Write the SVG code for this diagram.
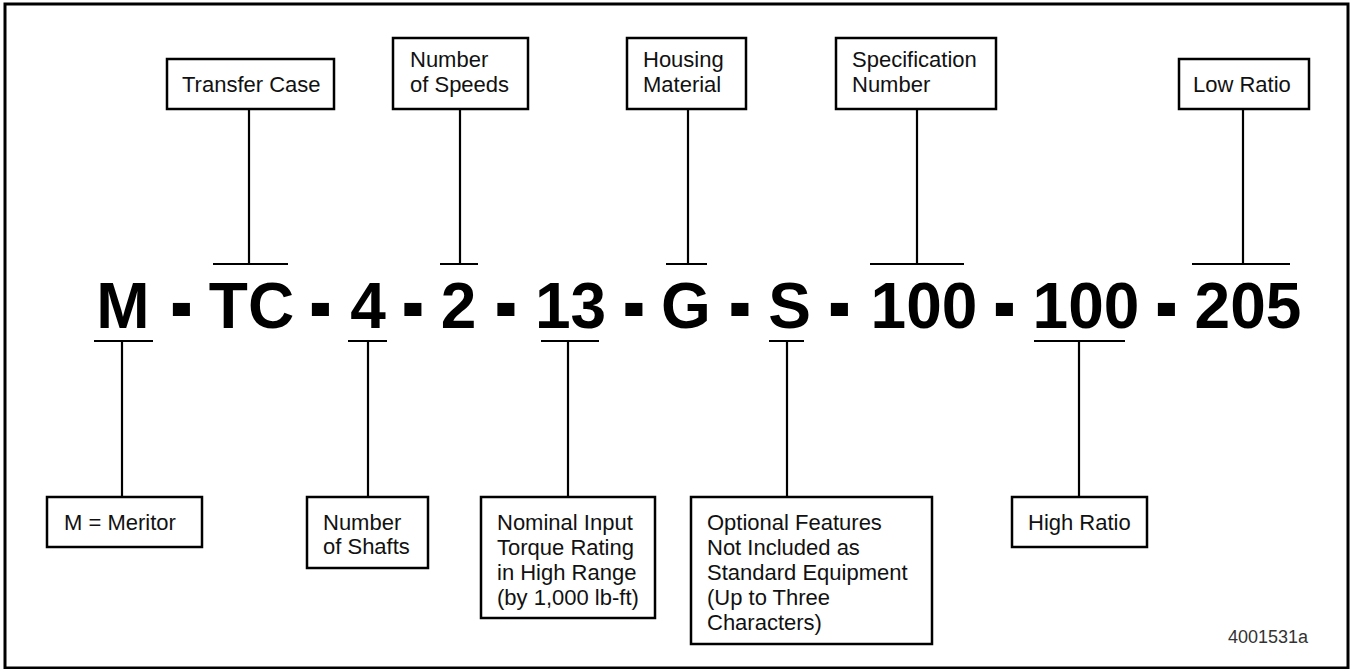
<svg xmlns="http://www.w3.org/2000/svg" width="1350" height="669" viewBox="0 0 1350 669">
<style>
.frame{fill:#fff;stroke:#000;stroke-width:3}
.box{fill:#fff;stroke:#000;stroke-width:2.5}
.lbl{font-family:"Liberation Sans",Arial,sans-serif;font-size:22px;fill:#111}
.code{font-family:"Liberation Sans",Arial,sans-serif;font-size:64px;font-weight:bold;fill:#000;text-anchor:middle}
.conn line{stroke:#000;stroke-width:2.2}
.ref{font-family:"Liberation Sans",Arial,sans-serif;font-size:18px;fill:#333}
</style>
<rect class="frame" x="5" y="4" width="1343" height="664"/>
<g id="connectors" class="conn">
<line x1="249" y1="109" x2="249" y2="264"/><line x1="213" y1="264" x2="288" y2="264"/>
<line x1="460" y1="109" x2="460" y2="264"/><line x1="440" y1="264" x2="478" y2="264"/>
<line x1="688" y1="109" x2="688" y2="264"/><line x1="666" y1="264" x2="707" y2="264"/>
<line x1="917" y1="109" x2="917" y2="264"/><line x1="870" y1="264" x2="964" y2="264"/>
<line x1="1243" y1="109" x2="1243" y2="264"/><line x1="1192" y1="264" x2="1290" y2="264"/>
<line x1="94" y1="341" x2="153" y2="341"/><line x1="122" y1="341" x2="122" y2="497"/>
<line x1="348" y1="341" x2="387" y2="341"/><line x1="368" y1="341" x2="368" y2="497"/>
<line x1="541" y1="341" x2="599" y2="341"/><line x1="568" y1="341" x2="568" y2="497"/>
<line x1="769" y1="341" x2="804" y2="341"/><line x1="787" y1="341" x2="787" y2="497"/>
<line x1="1034" y1="341" x2="1125" y2="341"/><line x1="1079" y1="341" x2="1079" y2="497"/>
</g>
<g id="code">
<text class="code" x="123" y="328">M</text>
<text class="code" transform="translate(181.5,311) scale(1.05,1.7)" x="0" y="16">-</text>
<text class="code" x="251.5" y="328">TC</text>
<text class="code" transform="translate(320.5,311) scale(1.05,1.7)" x="0" y="16">-</text>
<text class="code" x="368" y="328">4</text>
<text class="code" transform="translate(413,311) scale(1.05,1.7)" x="0" y="16">-</text>
<text class="code" x="458.5" y="328">2</text>
<text class="code" transform="translate(506,311) scale(1.05,1.7)" x="0" y="16">-</text>
<text class="code" x="570.5" y="328">13</text>
<text class="code" transform="translate(634,311) scale(1.05,1.7)" x="0" y="16">-</text>
<text class="code" x="686" y="328">G</text>
<text class="code" transform="translate(740,311) scale(1.05,1.7)" x="0" y="16">-</text>
<text class="code" x="789.5" y="328">S</text>
<text class="code" transform="translate(839.5,311) scale(1.05,1.7)" x="0" y="16">-</text>
<text class="code" x="924" y="328">100</text>
<text class="code" transform="translate(1004.5,311) scale(1.05,1.7)" x="0" y="16">-</text>
<text class="code" x="1086" y="328">100</text>
<text class="code" transform="translate(1166.5,311) scale(1.05,1.7)" x="0" y="16">-</text>
<text class="code" x="1248" y="328">205</text>
</g>
<g id="transfer-case"><rect class="box" x="167" y="59" width="167" height="50"/><text class="lbl" x="182" y="92">Transfer Case</text></g>
<g id="number-of-speeds"><rect class="box" x="393" y="38" width="135" height="71"/><text class="lbl" x="410" y="67">Number</text><text class="lbl" x="410" y="92">of Speeds</text></g>
<g id="housing-material"><rect class="box" x="627" y="38" width="119" height="71"/><text class="lbl" x="643" y="67">Housing</text><text class="lbl" x="643" y="92">Material</text></g>
<g id="specification-number"><rect class="box" x="836" y="38" width="160" height="71"/><text class="lbl" x="852" y="67">Specification</text><text class="lbl" x="852" y="92">Number</text></g>
<g id="low-ratio"><rect class="box" x="1179" y="59" width="130" height="50"/><text class="lbl" x="1193" y="92">Low Ratio</text></g>
<g id="meritor"><rect class="box" x="47" y="497" width="155" height="50"/><text class="lbl" x="64" y="530">M = Meritor</text></g>
<g id="number-of-shafts"><rect class="box" x="307" y="497" width="121" height="71"/><text class="lbl" x="323" y="530">Number</text><text class="lbl" x="323" y="554">of Shafts</text></g>
<g id="torque-rating"><rect class="box" x="481" y="497" width="174" height="121"/><text class="lbl" x="497" y="530">Nominal Input</text><text class="lbl" x="497" y="555">Torque Rating</text><text class="lbl" x="497" y="580">in High Range</text><text class="lbl" x="497" y="605">(by 1,000 lb-ft)</text></g>
<g id="optional-features"><rect class="box" x="691" y="497" width="241" height="147"/><text class="lbl" x="707" y="530">Optional Features</text><text class="lbl" x="707" y="555">Not Included as</text><text class="lbl" x="707" y="580">Standard Equipment</text><text class="lbl" x="707" y="605">(Up to Three</text><text class="lbl" x="707" y="630">Characters)</text></g>
<g id="high-ratio"><rect class="box" x="1012" y="497" width="135" height="50"/><text class="lbl" x="1028" y="530">High Ratio</text></g>
<text class="ref" x="1228" y="643">4001531a</text>
</svg>
